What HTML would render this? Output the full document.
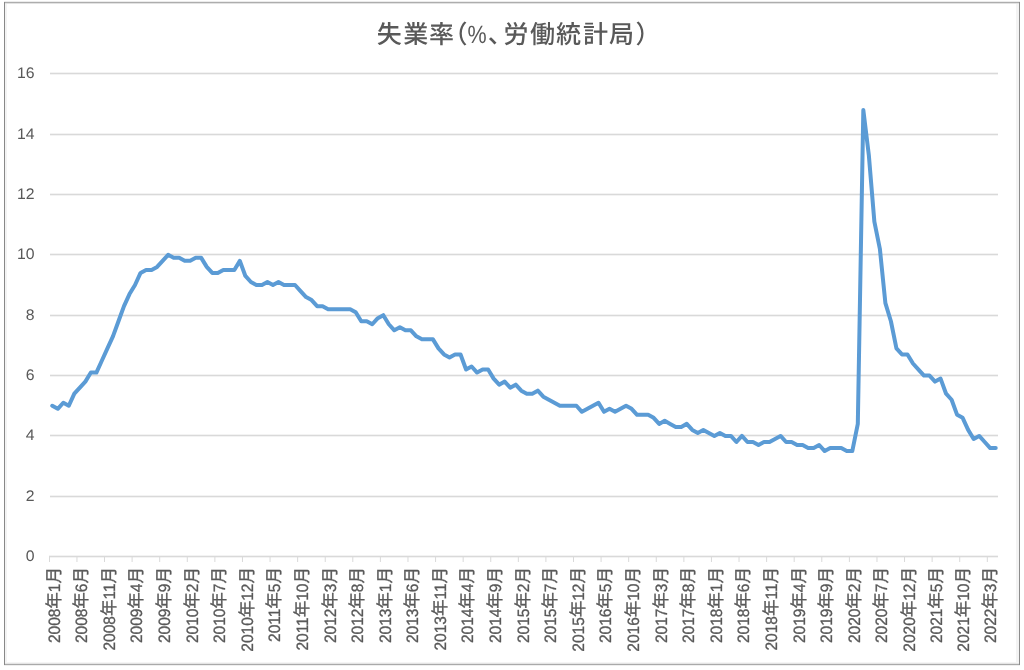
<!DOCTYPE html>
<html><head><meta charset="utf-8"><style>
html,body{margin:0;padding:0;background:#fff;width:1024px;height:670px;overflow:hidden}
svg{display:block}
.yl{font-family:"Liberation Sans",sans-serif;font-size:15.8px;fill:#595959}
text{text-rendering:geometricPrecision}
.xl{font-family:"Liberation Sans","Noto Sans CJK JP",sans-serif;font-size:15.5px;fill:#595959;stroke:#595959;stroke-width:0.3px}
.cj{font-size:16.5px}
.ttl{font-family:"Liberation Sans","Noto Sans CJK JP",sans-serif;font-size:25px;fill:#595959;font-feature-settings:"palt";font-weight:500}
</style></head><body>
<svg width="1024" height="670" viewBox="0 0 1024 670">
<rect x="0" y="0" width="1024" height="670" fill="#fff"/>
<rect x="5" y="3" width="1014" height="661" fill="#fff"/>
<rect x="5" y="3" width="2" height="661" fill="#f3f3f3"/>
<rect x="1016" y="3" width="3" height="661" fill="#f3f3f3"/>
<rect x="5" y="662" width="1014" height="2" fill="#f5f5f5"/>
<rect x="4" y="1" width="1016" height="1" fill="#ececec"/>
<rect x="4" y="3" width="1016" height="1" fill="#e2e2e2"/>
<rect x="4" y="663" width="1016" height="1" fill="#e4e4e4"/>
<rect x="4" y="665" width="1016" height="1" fill="#efefef"/>
<rect x="4" y="2" width="1016" height="1" fill="#adadad"/>
<rect x="4" y="664" width="1016" height="1" fill="#a9a9a9"/>
<rect x="4" y="2" width="1" height="663" fill="#888888"/>
<rect x="1019" y="2" width="1" height="663" fill="#8c8c8c"/>
<rect x="50" y="72" width="948" height="3" fill="#f3f3f3"/>
<rect x="50" y="73" width="948" height="1" fill="#d9d9d9"/>
<rect x="50" y="133" width="948" height="3" fill="#f3f3f3"/>
<rect x="50" y="134" width="948" height="1" fill="#d9d9d9"/>
<rect x="50" y="193" width="948" height="3" fill="#f3f3f3"/>
<rect x="50" y="194" width="948" height="1" fill="#d9d9d9"/>
<rect x="50" y="253" width="948" height="3" fill="#f3f3f3"/>
<rect x="50" y="254" width="948" height="1" fill="#d9d9d9"/>
<rect x="50" y="314" width="948" height="3" fill="#f3f3f3"/>
<rect x="50" y="315" width="948" height="1" fill="#d9d9d9"/>
<rect x="50" y="374" width="948" height="3" fill="#f3f3f3"/>
<rect x="50" y="375" width="948" height="1" fill="#d9d9d9"/>
<rect x="50" y="434" width="948" height="3" fill="#f3f3f3"/>
<rect x="50" y="435" width="948" height="1" fill="#d9d9d9"/>
<rect x="50" y="495" width="948" height="3" fill="#f3f3f3"/>
<rect x="50" y="496" width="948" height="1" fill="#d9d9d9"/>
<rect x="49" y="555" width="949" height="3" fill="#f3f3f3"/>
<line x1="49.50" y1="556.5" x2="49.50" y2="562" stroke="#d9d9d9" stroke-width="1"/>
<line x1="76.94" y1="556.5" x2="76.94" y2="562" stroke="#d9d9d9" stroke-width="1"/>
<line x1="104.52" y1="556.5" x2="104.52" y2="562" stroke="#d9d9d9" stroke-width="1"/>
<line x1="132.11" y1="556.5" x2="132.11" y2="562" stroke="#d9d9d9" stroke-width="1"/>
<line x1="159.70" y1="556.5" x2="159.70" y2="562" stroke="#d9d9d9" stroke-width="1"/>
<line x1="187.29" y1="556.5" x2="187.29" y2="562" stroke="#d9d9d9" stroke-width="1"/>
<line x1="214.87" y1="556.5" x2="214.87" y2="562" stroke="#d9d9d9" stroke-width="1"/>
<line x1="242.46" y1="556.5" x2="242.46" y2="562" stroke="#d9d9d9" stroke-width="1"/>
<line x1="270.05" y1="556.5" x2="270.05" y2="562" stroke="#d9d9d9" stroke-width="1"/>
<line x1="297.63" y1="556.5" x2="297.63" y2="562" stroke="#d9d9d9" stroke-width="1"/>
<line x1="325.22" y1="556.5" x2="325.22" y2="562" stroke="#d9d9d9" stroke-width="1"/>
<line x1="352.81" y1="556.5" x2="352.81" y2="562" stroke="#d9d9d9" stroke-width="1"/>
<line x1="380.40" y1="556.5" x2="380.40" y2="562" stroke="#d9d9d9" stroke-width="1"/>
<line x1="407.98" y1="556.5" x2="407.98" y2="562" stroke="#d9d9d9" stroke-width="1"/>
<line x1="435.57" y1="556.5" x2="435.57" y2="562" stroke="#d9d9d9" stroke-width="1"/>
<line x1="463.16" y1="556.5" x2="463.16" y2="562" stroke="#d9d9d9" stroke-width="1"/>
<line x1="490.75" y1="556.5" x2="490.75" y2="562" stroke="#d9d9d9" stroke-width="1"/>
<line x1="518.33" y1="556.5" x2="518.33" y2="562" stroke="#d9d9d9" stroke-width="1"/>
<line x1="545.92" y1="556.5" x2="545.92" y2="562" stroke="#d9d9d9" stroke-width="1"/>
<line x1="573.51" y1="556.5" x2="573.51" y2="562" stroke="#d9d9d9" stroke-width="1"/>
<line x1="601.09" y1="556.5" x2="601.09" y2="562" stroke="#d9d9d9" stroke-width="1"/>
<line x1="628.68" y1="556.5" x2="628.68" y2="562" stroke="#d9d9d9" stroke-width="1"/>
<line x1="656.27" y1="556.5" x2="656.27" y2="562" stroke="#d9d9d9" stroke-width="1"/>
<line x1="683.86" y1="556.5" x2="683.86" y2="562" stroke="#d9d9d9" stroke-width="1"/>
<line x1="711.44" y1="556.5" x2="711.44" y2="562" stroke="#d9d9d9" stroke-width="1"/>
<line x1="739.03" y1="556.5" x2="739.03" y2="562" stroke="#d9d9d9" stroke-width="1"/>
<line x1="766.62" y1="556.5" x2="766.62" y2="562" stroke="#d9d9d9" stroke-width="1"/>
<line x1="794.20" y1="556.5" x2="794.20" y2="562" stroke="#d9d9d9" stroke-width="1"/>
<line x1="821.79" y1="556.5" x2="821.79" y2="562" stroke="#d9d9d9" stroke-width="1"/>
<line x1="849.38" y1="556.5" x2="849.38" y2="562" stroke="#d9d9d9" stroke-width="1"/>
<line x1="876.97" y1="556.5" x2="876.97" y2="562" stroke="#d9d9d9" stroke-width="1"/>
<line x1="904.55" y1="556.5" x2="904.55" y2="562" stroke="#d9d9d9" stroke-width="1"/>
<line x1="932.14" y1="556.5" x2="932.14" y2="562" stroke="#d9d9d9" stroke-width="1"/>
<line x1="959.73" y1="556.5" x2="959.73" y2="562" stroke="#d9d9d9" stroke-width="1"/>
<line x1="987.32" y1="556.5" x2="987.32" y2="562" stroke="#d9d9d9" stroke-width="1"/>
<rect x="49" y="556" width="949" height="1" fill="#d9d9d9"/>
<text transform="translate(34.5,78.2) scale(1.0,0.97)" text-anchor="end" class="yl">16</text>
<text transform="translate(34.5,139.2) scale(1.0,0.97)" text-anchor="end" class="yl">14</text>
<text transform="translate(34.5,199.2) scale(1.0,0.97)" text-anchor="end" class="yl">12</text>
<text transform="translate(34.5,259.2) scale(1.0,0.97)" text-anchor="end" class="yl">10</text>
<text transform="translate(34.5,320.2) scale(1.0,0.97)" text-anchor="end" class="yl">8</text>
<text transform="translate(34.5,380.2) scale(1.0,0.97)" text-anchor="end" class="yl">6</text>
<text transform="translate(34.5,440.2) scale(1.0,0.97)" text-anchor="end" class="yl">4</text>
<text transform="translate(34.5,501.2) scale(1.0,0.97)" text-anchor="end" class="yl">2</text>
<text transform="translate(34.5,561.2) scale(1.0,0.97)" text-anchor="end" class="yl">0</text>
<text transform="translate(59.66,567) rotate(-90) scale(1,1.06)" text-anchor="end" class="xl">2008<tspan class="cj">年</tspan>1<tspan class="cj">月</tspan></text>
<text transform="translate(87.25,567) rotate(-90) scale(1,1.06)" text-anchor="end" class="xl">2008<tspan class="cj">年</tspan>6<tspan class="cj">月</tspan></text>
<text transform="translate(114.83,567) rotate(-90) scale(1,1.06)" text-anchor="end" class="xl">2008<tspan class="cj">年</tspan>11<tspan class="cj">月</tspan></text>
<text transform="translate(142.42,567) rotate(-90) scale(1,1.06)" text-anchor="end" class="xl">2009<tspan class="cj">年</tspan>4<tspan class="cj">月</tspan></text>
<text transform="translate(170.01,567) rotate(-90) scale(1,1.06)" text-anchor="end" class="xl">2009<tspan class="cj">年</tspan>9<tspan class="cj">月</tspan></text>
<text transform="translate(197.59,567) rotate(-90) scale(1,1.06)" text-anchor="end" class="xl">2010<tspan class="cj">年</tspan>2<tspan class="cj">月</tspan></text>
<text transform="translate(225.18,567) rotate(-90) scale(1,1.06)" text-anchor="end" class="xl">2010<tspan class="cj">年</tspan>7<tspan class="cj">月</tspan></text>
<text transform="translate(252.77,567) rotate(-90) scale(1,1.06)" text-anchor="end" class="xl">2010<tspan class="cj">年</tspan>12<tspan class="cj">月</tspan></text>
<text transform="translate(280.36,567) rotate(-90) scale(1,1.06)" text-anchor="end" class="xl">2011<tspan class="cj">年</tspan>5<tspan class="cj">月</tspan></text>
<text transform="translate(307.94,567) rotate(-90) scale(1,1.06)" text-anchor="end" class="xl">2011<tspan class="cj">年</tspan>10<tspan class="cj">月</tspan></text>
<text transform="translate(335.53,567) rotate(-90) scale(1,1.06)" text-anchor="end" class="xl">2012<tspan class="cj">年</tspan>3<tspan class="cj">月</tspan></text>
<text transform="translate(363.12,567) rotate(-90) scale(1,1.06)" text-anchor="end" class="xl">2012<tspan class="cj">年</tspan>8<tspan class="cj">月</tspan></text>
<text transform="translate(390.71,567) rotate(-90) scale(1,1.06)" text-anchor="end" class="xl">2013<tspan class="cj">年</tspan>1<tspan class="cj">月</tspan></text>
<text transform="translate(418.29,567) rotate(-90) scale(1,1.06)" text-anchor="end" class="xl">2013<tspan class="cj">年</tspan>6<tspan class="cj">月</tspan></text>
<text transform="translate(445.88,567) rotate(-90) scale(1,1.06)" text-anchor="end" class="xl">2013<tspan class="cj">年</tspan>11<tspan class="cj">月</tspan></text>
<text transform="translate(473.47,567) rotate(-90) scale(1,1.06)" text-anchor="end" class="xl">2014<tspan class="cj">年</tspan>4<tspan class="cj">月</tspan></text>
<text transform="translate(501.05,567) rotate(-90) scale(1,1.06)" text-anchor="end" class="xl">2014<tspan class="cj">年</tspan>9<tspan class="cj">月</tspan></text>
<text transform="translate(528.64,567) rotate(-90) scale(1,1.06)" text-anchor="end" class="xl">2015<tspan class="cj">年</tspan>2<tspan class="cj">月</tspan></text>
<text transform="translate(556.23,567) rotate(-90) scale(1,1.06)" text-anchor="end" class="xl">2015<tspan class="cj">年</tspan>7<tspan class="cj">月</tspan></text>
<text transform="translate(583.82,567) rotate(-90) scale(1,1.06)" text-anchor="end" class="xl">2015<tspan class="cj">年</tspan>12<tspan class="cj">月</tspan></text>
<text transform="translate(611.40,567) rotate(-90) scale(1,1.06)" text-anchor="end" class="xl">2016<tspan class="cj">年</tspan>5<tspan class="cj">月</tspan></text>
<text transform="translate(638.99,567) rotate(-90) scale(1,1.06)" text-anchor="end" class="xl">2016<tspan class="cj">年</tspan>10<tspan class="cj">月</tspan></text>
<text transform="translate(666.58,567) rotate(-90) scale(1,1.06)" text-anchor="end" class="xl">2017<tspan class="cj">年</tspan>3<tspan class="cj">月</tspan></text>
<text transform="translate(694.16,567) rotate(-90) scale(1,1.06)" text-anchor="end" class="xl">2017<tspan class="cj">年</tspan>8<tspan class="cj">月</tspan></text>
<text transform="translate(721.75,567) rotate(-90) scale(1,1.06)" text-anchor="end" class="xl">2018<tspan class="cj">年</tspan>1<tspan class="cj">月</tspan></text>
<text transform="translate(749.34,567) rotate(-90) scale(1,1.06)" text-anchor="end" class="xl">2018<tspan class="cj">年</tspan>6<tspan class="cj">月</tspan></text>
<text transform="translate(776.93,567) rotate(-90) scale(1,1.06)" text-anchor="end" class="xl">2018<tspan class="cj">年</tspan>11<tspan class="cj">月</tspan></text>
<text transform="translate(804.51,567) rotate(-90) scale(1,1.06)" text-anchor="end" class="xl">2019<tspan class="cj">年</tspan>4<tspan class="cj">月</tspan></text>
<text transform="translate(832.10,567) rotate(-90) scale(1,1.06)" text-anchor="end" class="xl">2019<tspan class="cj">年</tspan>9<tspan class="cj">月</tspan></text>
<text transform="translate(859.69,567) rotate(-90) scale(1,1.06)" text-anchor="end" class="xl">2020<tspan class="cj">年</tspan>2<tspan class="cj">月</tspan></text>
<text transform="translate(887.27,567) rotate(-90) scale(1,1.06)" text-anchor="end" class="xl">2020<tspan class="cj">年</tspan>7<tspan class="cj">月</tspan></text>
<text transform="translate(914.86,567) rotate(-90) scale(1,1.06)" text-anchor="end" class="xl">2020<tspan class="cj">年</tspan>12<tspan class="cj">月</tspan></text>
<text transform="translate(942.45,567) rotate(-90) scale(1,1.06)" text-anchor="end" class="xl">2021<tspan class="cj">年</tspan>5<tspan class="cj">月</tspan></text>
<text transform="translate(969.44,567) rotate(-90) scale(1,1.06)" text-anchor="end" class="xl">2021<tspan class="cj">年</tspan>10<tspan class="cj">月</tspan></text>
<text transform="translate(996.22,567) rotate(-90) scale(1,1.06)" text-anchor="end" class="xl">2022<tspan class="cj">年</tspan>3<tspan class="cj">月</tspan></text>
<polyline points="52.26,405.76 57.78,408.78 63.29,402.74 68.81,405.76 74.33,393.69 79.85,387.65 85.36,381.61 90.88,372.56 96.40,372.56 101.92,360.48 107.43,348.41 112.95,336.33 118.47,321.24 123.99,306.14 129.50,294.07 135.02,285.01 140.54,272.94 146.06,269.92 151.57,269.92 157.09,266.90 162.61,260.86 168.12,254.83 173.64,257.84 179.16,257.84 184.68,260.86 190.19,260.86 195.71,257.84 201.23,257.84 206.75,266.90 212.26,272.94 217.78,272.94 223.30,269.92 228.82,269.92 234.33,269.92 239.85,260.86 245.37,275.96 250.89,281.99 256.40,285.01 261.92,285.01 267.44,281.99 272.96,285.01 278.47,281.99 283.99,285.01 289.51,285.01 295.03,285.01 300.54,291.05 306.06,297.09 311.58,300.11 317.10,306.14 322.61,306.14 328.13,309.16 333.65,309.16 339.17,309.16 344.68,309.16 350.20,309.16 355.72,312.18 361.24,321.24 366.75,321.24 372.27,324.26 377.79,318.22 383.31,315.20 388.82,324.26 394.34,330.29 399.86,327.28 405.38,330.29 410.89,330.29 416.41,336.33 421.93,339.35 427.44,339.35 432.96,339.35 438.48,348.41 444.00,354.44 449.51,357.46 455.03,354.44 460.55,354.44 466.07,369.54 471.58,366.52 477.10,372.56 482.62,369.54 488.14,369.54 493.65,378.59 499.17,384.63 504.69,381.61 510.21,387.65 515.72,384.63 521.24,390.67 526.76,393.69 532.28,393.69 537.79,390.67 543.31,396.71 548.83,399.73 554.35,402.74 559.86,405.76 565.38,405.76 570.90,405.76 576.42,405.76 581.93,411.80 587.45,408.78 592.97,405.76 598.49,402.74 604.00,411.80 609.52,408.78 615.04,411.80 620.56,408.78 626.07,405.76 631.59,408.78 637.11,414.82 642.62,414.82 648.14,414.82 653.66,417.84 659.18,423.88 664.69,420.86 670.21,423.88 675.73,426.89 681.25,426.89 686.76,423.88 692.28,429.91 697.80,432.93 703.32,429.91 708.83,432.93 714.35,435.95 719.87,432.93 725.39,435.95 730.90,435.95 736.42,441.99 741.94,435.95 747.46,441.99 752.97,441.99 758.49,445.01 764.01,441.99 769.53,441.99 775.04,438.97 780.56,435.95 786.08,441.99 791.60,441.99 797.11,445.01 802.63,445.01 808.15,448.03 813.67,448.03 819.18,445.01 824.70,451.04 830.22,448.03 835.74,448.03 841.25,448.03 846.77,451.04 852.29,451.04 857.81,423.88 863.32,109.93 868.84,155.21 874.36,221.62 879.87,248.79 885.39,303.12 890.91,321.24 896.43,348.41 901.94,354.44 907.46,354.44 912.98,363.50 918.50,369.54 924.01,375.58 929.53,375.58 935.05,381.61 940.57,378.59 946.08,393.69 951.60,399.73 957.12,414.82 962.64,417.84 968.15,429.91 973.67,438.97 979.19,435.95 984.71,441.99 990.22,448.03 995.74,448.03" fill="none" stroke="#5b9bd5" stroke-width="4.0" stroke-linejoin="round" stroke-linecap="round"/>
<text x="376.8 403.2 429 454" y="43.4" class="ttl">失業率（</text>
<text transform="translate(467.5,43.4) scale(0.86,1)" class="ttl" style="font-size:25px">%</text>
<text x="487.9 503.5 530 556.1 583 609.1 636.4" y="43.4" class="ttl">、労働統計局）</text>
</svg>
</body></html>
